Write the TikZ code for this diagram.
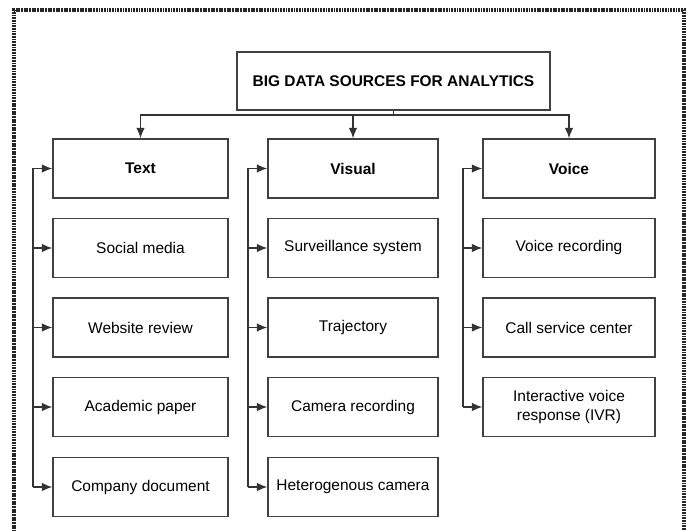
\documentclass[tikz,border=0pt]{standalone}
\usepackage{fontspec}
\setmainfont{Liberation Sans}
\usetikzlibrary{arrows.meta,positioning}

\tikzset{
  srcbox/.style={draw=black!75, line width=0.9pt, minimum height=1.475cm, align=center, inner sep=2pt},
  headbox/.style={srcbox, font=\fontsize{11}{13}\selectfont\bfseries},
  link/.style={draw=black!80, line width=0.9pt},
  feed/.style={link, -{Latex[length=2.6mm,width=2.1mm]}},
}

\begin{document}
\begin{tikzpicture}[x=0.025cm, y=-0.025cm, font=\fontsize{11}{13}\selectfont]
\useasboundingbox (0,0) rectangle (690,531);
% dotted frame, open at the bottom
\draw[black!85, line width=2.2pt, dash pattern=on 1.3pt off 0.6pt] (14,540) -- (14,10) -- (684,10) -- (684,540);

\node[headbox, minimum width=7.825cm, minimum height=1.45cm] (title) at (393.5,81) {BIG DATA SOURCES FOR ANALYTICS};

% column heads
\node[headbox, minimum width=4.375cm] (text)   at (140.5,168.5) {Text};
\node[headbox, minimum width=4.25cm]  (visual) at (353,168.5)   {Visual};
\node[headbox, minimum width=4.3cm]   (voice)  at (569,168.5)   {Voice};

% text sources
\node[srcbox, minimum width=4.375cm] (social)   at (140.5,248)   {Social media};
\node[srcbox, minimum width=4.375cm] (website)  at (140.5,327.5) {Website review};
\node[srcbox, minimum width=4.375cm] (academic) at (140.5,407)   {Academic paper};
\node[srcbox, minimum width=4.375cm] (compdoc)  at (140.5,487)   {Company document};

% visual sources
\node[srcbox, minimum width=4.25cm] (surveil)  at (353,248)   {Surveillance system};
\node[srcbox, minimum width=4.25cm] (traject)  at (353,327.5) {Trajectory};
\node[srcbox, minimum width=4.25cm] (camrec)   at (353,407)   {Camera recording};
\node[srcbox, minimum width=4.25cm] (hetcam)   at (353,487)   {Heterogenous camera};

% voice sources
\node[srcbox, minimum width=4.3cm] (voicerec) at (569,248)   {Voice recording};
\node[srcbox, minimum width=4.3cm] (callsvc)  at (569,327.5) {Call service center};
\node[srcbox, minimum width=4.3cm] (ivr)      at (569,407)   {Interactive voice\\response (IVR)};

% bus under the title
\coordinate (bus) at (393.5,115);
\draw[link] (title.south) -- (bus);
\draw[feed] (bus) -| (text.north);
\draw[feed] (bus) -| (visual.north);
\draw[feed] (bus) -| (voice.north);

% feeder rails on the left of each column
\coordinate (railt) at (33,0);
\coordinate (railv) at (248,0);
\coordinate (railc) at (463,0);
\draw[link] (text.west -| railt) -- (compdoc.west -| railt);
\draw[link] (visual.west -| railv) -- (hetcam.west -| railv);
\draw[link] (voice.west -| railc) -- (ivr.west -| railc);
\foreach \n in {text,social,website,academic,compdoc}
  \draw[feed] (\n.west -| railt) -- (\n.west);
\foreach \n in {visual,surveil,traject,camrec,hetcam}
  \draw[feed] (\n.west -| railv) -- (\n.west);
\foreach \n in {voice,voicerec,callsvc,ivr}
  \draw[feed] (\n.west -| railc) -- (\n.west);
\end{tikzpicture}
\end{document}
